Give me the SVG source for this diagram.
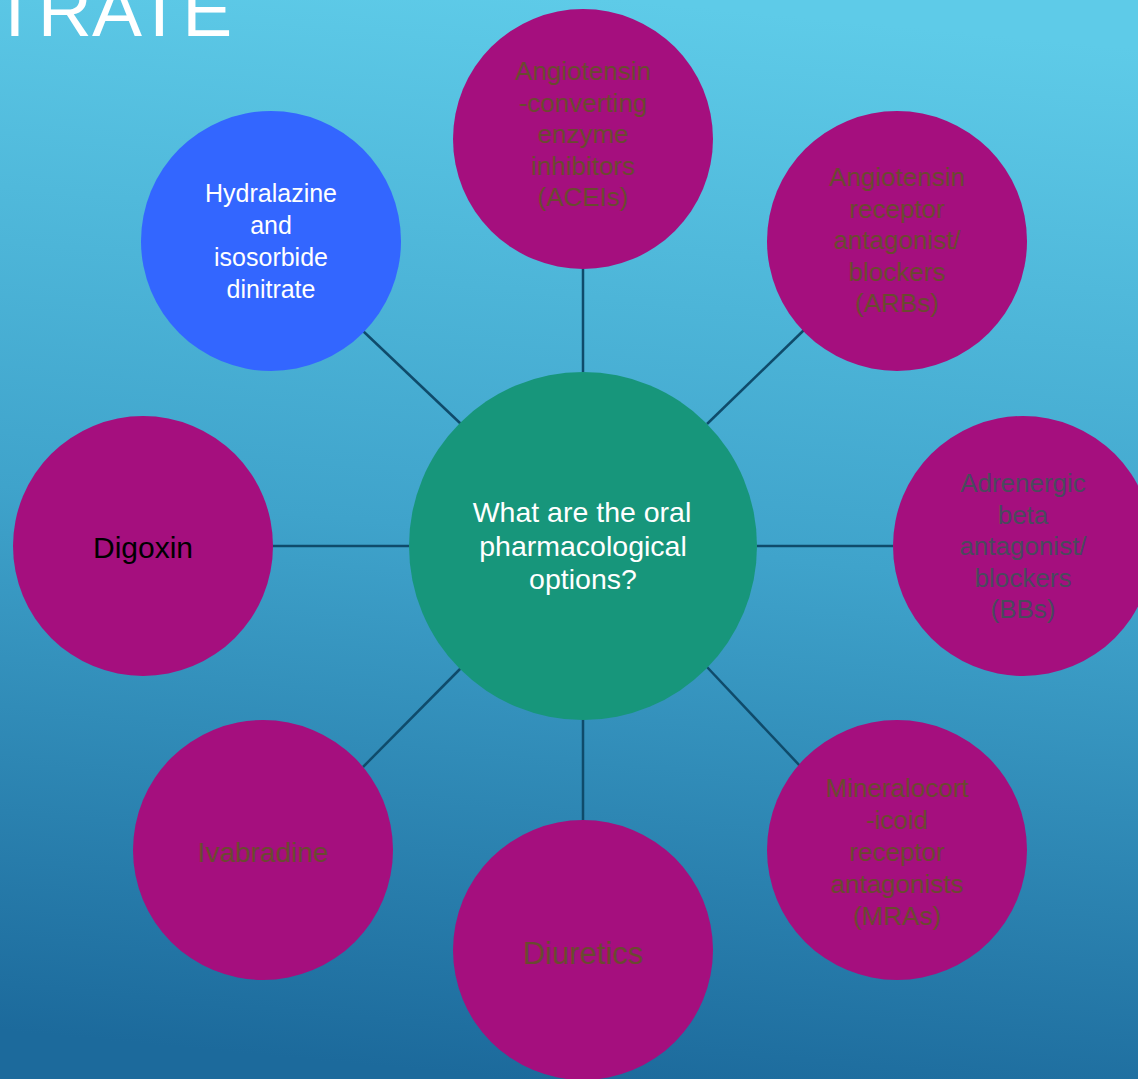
<svg xmlns="http://www.w3.org/2000/svg" width="1138" height="1079" viewBox="0 0 1138 1079">
<defs>
<linearGradient id="bg" x1="0.55" y1="0" x2="0.45" y2="1">
<stop offset="0" stop-color="#5ecbe8"/>
<stop offset="0.5" stop-color="#3fa3cb"/>
<stop offset="1" stop-color="#1c6a9c"/>
</linearGradient>
<style>
text{font-family:"Liberation Sans",Arial,sans-serif;text-anchor:middle}
.mag{fill:#a50f7e}
.br{fill:#6a4a30;font-size:26px}
.gr{fill:#4a4a5c;font-size:26px}
.wh{fill:#ffffff}
.conn line{stroke:#0f4b6b;stroke-width:2.5}
</style>
</defs>
<rect width="1138" height="1079" fill="url(#bg)"/>
<text x="-8" y="36" style="text-anchor:start;font-size:75px;fill:#ffffff">TRATE</text>
<g class="conn">
<line x1="583" y1="269" x2="583" y2="372"/>
<line x1="707" y1="424" x2="804" y2="330"/>
<line x1="757" y1="546" x2="893" y2="546"/>
<line x1="707" y1="667" x2="801" y2="767"/>
<line x1="583" y1="719" x2="583" y2="820"/>
<line x1="461" y1="668" x2="363" y2="767"/>
<line x1="409" y1="546" x2="273" y2="546"/>
<line x1="461" y1="424" x2="363" y2="331"/>
</g>
<g id="center">
<circle cx="583" cy="546" r="174" fill="#17967b"/>
<text class="wh" style="font-size:28.5px"><tspan x="582" y="522">What are the oral</tspan><tspan x="583" y="555.5">pharmacological</tspan><tspan x="583" y="589">options?</tspan></text>
</g>
<g id="ace">
<circle class="mag" cx="583" cy="139" r="130"/>
<text class="br"><tspan x="583" y="80">Angiotensin</tspan><tspan x="583" y="111.5">-converting</tspan><tspan x="583" y="143">enzyme</tspan><tspan x="583" y="174.5">inhibitors</tspan><tspan x="583" y="206">(ACEIs)</tspan></text>
</g>
<g id="arb">
<circle class="mag" cx="897" cy="241" r="130"/>
<text class="br"><tspan x="897" y="186">Angiotensin</tspan><tspan x="897" y="217.5">receptor</tspan><tspan x="897" y="249">antagonist/</tspan><tspan x="897" y="280.5">blockers</tspan><tspan x="897" y="312">(ARBs)</tspan></text>
</g>
<g id="bb">
<circle class="mag" cx="1023" cy="546" r="130"/>
<text class="gr"><tspan x="1023" y="492">Adrenergic</tspan><tspan x="1023" y="523.5">beta</tspan><tspan x="1023" y="555">antagonist/</tspan><tspan x="1023" y="586.5">blockers</tspan><tspan x="1023" y="618">(BBs)</tspan></text>
</g>
<g id="mra">
<circle class="mag" cx="897" cy="850" r="130"/>
<text class="br"><tspan x="897" y="797">Mineralocort</tspan><tspan x="897" y="829">-icoid</tspan><tspan x="897" y="861">receptor</tspan><tspan x="897" y="893">antagonists</tspan><tspan x="897" y="925">(MRAs)</tspan></text>
</g>
<g id="diuretics">
<circle class="mag" cx="583" cy="950" r="130"/>
<text class="br" x="583" y="964" style="font-size:31px">Diuretics</text>
</g>
<g id="ivabradine">
<circle class="mag" cx="263" cy="850" r="130"/>
<text class="br" x="263" y="862" style="font-size:28px">Ivabradine</text>
</g>
<g id="digoxin">
<circle class="mag" cx="143" cy="546" r="130"/>
<text x="143" y="558" style="font-size:30px;fill:#000000">Digoxin</text>
</g>
<g id="hydralazine">
<circle cx="271" cy="241" r="130" fill="#3366ff"/>
<text class="wh" style="font-size:25px"><tspan x="271" y="202">Hydralazine</tspan><tspan x="271" y="234">and</tspan><tspan x="271" y="266">isosorbide</tspan><tspan x="271" y="298">dinitrate</tspan></text>
</g>
</svg>
